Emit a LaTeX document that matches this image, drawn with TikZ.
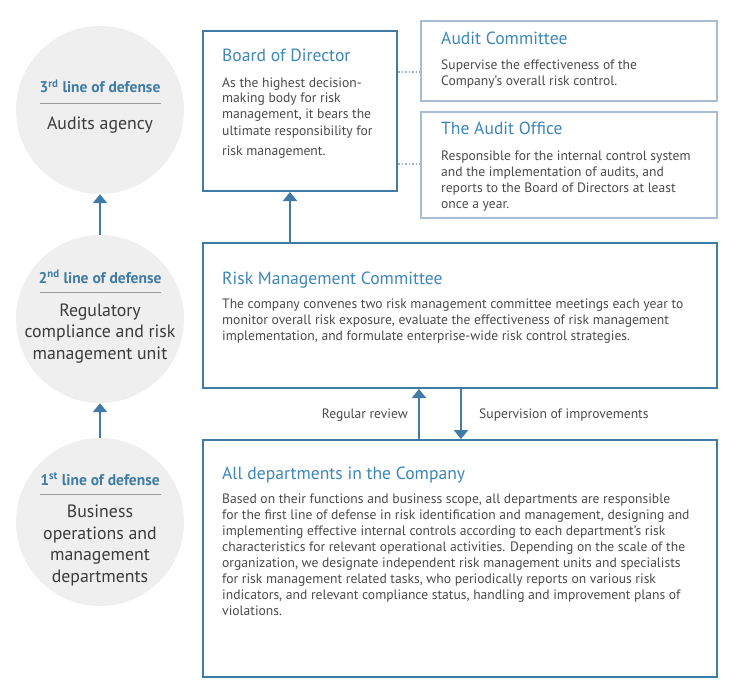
\documentclass[tikz,border=0pt]{standalone}
\usepackage{fontspec}
\setmainfont{PT Sans}
\usetikzlibrary{arrows.meta}
\definecolor{lineblue}{HTML}{3F7BA4}
\definecolor{titleblue}{HTML}{3D86BA}
\definecolor{paleblue}{HTML}{A9BCD4}
\definecolor{circlegray}{HTML}{EFEFEF}
\definecolor{bodygray}{HTML}{4A4A4A}
\definecolor{rulegray}{HTML}{9A9A9A}
\definecolor{dotblue}{HTML}{9FB2C8}

\begin{document}
\begin{tikzpicture}[x=1pt, y=-1pt,
    disc/.style={circle, fill=circlegray, minimum size=168pt, inner sep=0pt},
    bluebox/.style={rectangle, draw=lineblue, line width=2pt, inner sep=0pt},
    palebox/.style={rectangle, draw=paleblue, line width=2pt, inner sep=0pt},
    heading/.style={anchor=base west, inner sep=0pt, text=titleblue, font=\fontsize{17.6}{20}\selectfont},
    body/.style={anchor=base west, inner sep=0pt, text=bodygray, align=left, font=\fontsize{13.6}{16}\selectfont},
    lod/.style={anchor=base, inner sep=0pt, text=lineblue, font=\fontsize{15.5}{18}\selectfont\bfseries},
    tier/.style={anchor=base, inner sep=0pt, text=bodygray!80!black, align=center, font=\fontsize{17.8}{21.5}\selectfont},
    arr/.style={draw=lineblue, line width=2.5pt, -{Triangle[width=14pt,length=9pt]}},
    dots/.style={draw=dotblue, line width=1.5pt, dotted}]
  \useasboundingbox (0,0) rectangle (736,698);
  % Circles (top to bottom), text anchored at its last baseline
  \node (third) at (100,110) [disc] {};
  \node (second) at (100,319) [disc] {};
  \node (first) at (100,522) [disc] {};
  \node (thirdlod) at (100,93) [lod] {3\textsuperscript{rd} line of defense};
  \node (thirdtxt) at (100,130) [tier] {Audits agency};
  \node (secondlod) at (100,283) [lod] {2\textsuperscript{nd} line of defense};
  \node (secondtxt) at (100,359) [tier] {Regulatory\\compliance and risk\\management unit};
  \node (firstlod) at (100,485) [lod] {1\textsuperscript{st} line of defense};
  \node (firsttxt) at (100,582) [tier] {Business\\operations and\\management\\departments};
  \draw[rulegray, line width=1pt] (40,104) -- (161,104);
  \draw[rulegray, line width=1pt] (40,292) -- (161,292);
  \draw[rulegray, line width=1pt] (40,494) -- (161,494);
  % Boxes
  \node (board) at (300,111) [bluebox, minimum width=194pt, minimum height=160pt] {};
  \node (ac) at (569,61) [palebox, minimum width=296pt, minimum height=80pt] {};
  \node (ao) at (569,165) [palebox, minimum width=296pt, minimum height=106pt] {};
  \node (rmc) at (460,315.5) [bluebox, minimum width=514pt, minimum height=145pt] {};
  \node (dept) at (460,558.5) [bluebox, minimum width=514pt, minimum height=237pt] {};
  % Texts (bodies anchored at their last baseline)
  \node (boardttl) at (222,62) [heading] {Board of Director};
  \node (boardtxt) at (222,155) [body] {As the highest decision-\\making body for risk\\management, it bears the\\ultimate responsibility for\\[4pt]risk management.};
  \node (acttl) at (441,45) [heading] {Audit Committee};
  \node (actxt) at (441,86) [body] {Supervise the effectiveness of the\\Company’s overall risk control.};
  \node (aottl) at (441,135) [heading] {The Audit Office};
  \node (aotxt) at (441,208) [body] {Responsible for the internal control system\\and the implementation of audits, and\\reports to the Board of Directors at least\\once a year.};
  \node (rmcttl) at (222,284) [heading] {Risk Management Committee};
  \node (rmctxt) at (222,340) [body] {The company convenes two risk management committee meetings each year to\\monitor overall risk exposure, evaluate the effectiveness of risk management\\implementation, and formulate enterprise-wide risk control strategies.};
  \node (deptttl) at (222,479) [heading] {All departments in the Company};
  \node (depttxt) at (222,615) [body] {Based on their functions and business scope, all departments are responsible\\for the first line of defense in risk identification and management, designing and\\implementing effective internal controls according to each department’s risk\\characteristics for relevant operational activities. Depending on the scale of the\\organization, we designate independent risk management units and specialists\\for risk management related tasks, who periodically reports on various risk\\indicators, and relevant compliance status, handling and improvement plans of\\violations.};
  % Edges
  \draw[arr] (second) -- (third);
  \draw[arr] (first) -- (second);
  \draw[arr] (rmc.north -| 290,0) -- (board.south -| 290,0);
  \coordinate (upfoot) at (419,440);
  \coordinate (downfoot) at (461,388);
  \draw[arr] (upfoot) -- (rmc.south -| upfoot);
  \draw[arr] (downfoot) -- (dept.north -| downfoot);
  \draw[dots] (board.east |- 0,72) -- (ac.west |- 0,72);
  \draw[dots] (board.east |- 0,164) -- (ao.west |- 0,164);
  \node (review) at (408,418) [anchor=base east, inner sep=0pt, text=bodygray, font=\fontsize{13.6}{16}\selectfont] {Regular review};
  \node (superv) at (479,418) [anchor=base west, inner sep=0pt, text=bodygray, font=\fontsize{13.6}{16}\selectfont] {Supervision of improvements};
\end{tikzpicture}
\end{document}
